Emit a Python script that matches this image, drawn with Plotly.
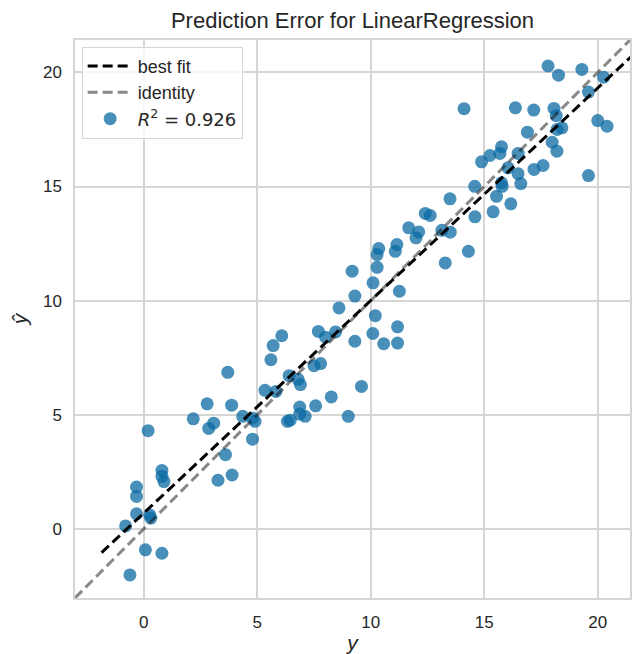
import numpy as np
import plotly.graph_objects as go

# ---- data ----
y_true = [5.34, 5.82, 2.79, 3.87, 2.18, 3.08, 2.86, 0.19, 4.36, 4.79,
          4.90, 4.79, 3.60, 3.89, 3.27, 0.80, 0.80, 0.89, -0.32, -0.32,
          -0.32, 0.26, 0.31, -0.80, 0.07, 0.80, -0.61,
          8.60, 9.30, 10.20, 7.69, 6.08, 5.70, 8.45, 8.01, 9.30,
          10.09, 5.60, 3.70, 6.40, 7.50, 7.79, 6.80, 6.90, 9.59, 8.26,
          7.57, 6.87, 6.87, 7.11, 6.33, 6.45, 9.01,
          12.40, 12.62, 11.67, 12.11, 11.99, 13.13, 13.50, 13.28, 10.35, 10.28,
          11.15, 11.08, 10.28, 10.10, 9.18, 11.26, 11.18, 10.57, 11.18,
          17.81, 18.27, 19.30, 20.26, 19.59, 14.11, 16.37, 17.18, 18.07, 18.17,
          20.00, 20.41, 16.90, 18.42, 18.21, 17.99, 18.20, 15.76, 15.25, 15.69,
          16.49, 14.88, 16.05, 16.49, 16.61, 17.19, 17.59, 19.59, 15.76, 15.79,
          14.58, 15.54, 16.17, 15.39, 14.59, 13.49, 14.30]
y_pred = [6.07, 6.02, 5.48, 5.42, 4.82, 4.63, 4.40, 4.30, 4.93, 4.85,
          4.71, 3.93, 3.25, 2.36, 2.13, 2.56, 2.30, 2.07, 1.83, 1.42,
          0.66, 0.61, 0.47, 0.13, -0.92, -1.07, -2.02,
          9.68, 10.20, 9.34, 8.65, 8.46, 8.03, 8.63, 8.40, 8.22,
          8.56, 7.41, 6.86, 6.71, 7.15, 7.24, 6.55, 6.32, 6.24, 5.78,
          5.39, 5.34, 5.03, 4.93, 4.71, 4.76, 4.93,
          13.82, 13.73, 13.19, 13.01, 12.75, 13.08, 13.00, 11.65, 12.28, 12.02,
          12.46, 12.16, 11.46, 10.78, 11.29, 10.41, 8.85, 8.11, 8.14,
          20.28, 19.88, 20.13, 19.79, 19.14, 18.41, 18.45, 18.35, 18.42, 18.11,
          17.89, 17.64, 17.38, 17.57, 17.50, 16.94, 16.55, 16.74, 16.36, 16.45,
          16.45, 16.08, 15.82, 15.56, 15.13, 15.75, 15.92, 15.48, 15.16, 15.01,
          15.01, 14.57, 14.24, 13.89, 13.67, 14.46, 12.16]
r2_text = "0.926"
axis_limits = [-3.03, 21.42]
tick_vals = [0, 5, 10, 15, 20]
title_text = "Prediction Error for LinearRegression"

# ---- best fit line (least squares on the data) ----
xa = np.array(y_true)
ya = np.array(y_pred)
slope, intercept = np.polyfit(xa, ya, 1)
span = xa.max() - xa.min()
xr = np.linspace(xa.min() - 0.05 * span, xa.max() + 0.05 * span, 100)
yr = slope * xr + intercept

r2_label = ('<span style="font-family:DejaVu Sans">'
            '<i>R</i><sup>2</sup> = ' + r2_text + '</span>')

fig = go.Figure()
fig.add_trace(go.Scatter(
    x=y_true, y=y_pred, mode="markers",
    marker=dict(color="#0b6aa3", size=13, opacity=0.75, line=dict(width=0)),
    name=r2_label, legendrank=3))
fig.add_trace(go.Scatter(
    x=xr, y=yr, mode="lines",
    line=dict(color="black", width=3, dash="10px,5px"),
    name="best fit", legendrank=1))
fig.add_trace(go.Scatter(
    x=axis_limits, y=axis_limits, mode="lines",
    line=dict(color="rgba(17,17,17,0.5)", width=3, dash="10px,5px"),
    name="identity", legendrank=2))

axis_common = dict(
    range=axis_limits, tickvals=tick_vals, showgrid=True,
    gridcolor="#d6d6d6", gridwidth=1.5, zeroline=False,
    showline=True, mirror=True, linecolor="#d6d6d6", linewidth=1.5,
    ticks="outside", ticklen=8, tickcolor="rgba(0,0,0,0)",
    tickfont=dict(size=17, color="#262626"),
)

fig.update_layout(
    width=633, height=654,
    margin=dict(l=75, r=1, t=40, b=56),
    plot_bgcolor="white", paper_bgcolor="white",
    font=dict(family="Liberation Sans, Arial, sans-serif", color="#262626"),
    title=dict(text=title_text, x=0.5, xref="paper", xanchor="center",
               y=1 - 20 / 654, yanchor="middle",
               font=dict(size=22, color="#262626")),
    legend=dict(x=0.012, y=0.988, xanchor="left", yanchor="top",
                bgcolor="rgba(255,255,255,0.8)", bordercolor="#d6d6d6",
                borderwidth=1, font=dict(size=18, color="#262626"),
                itemwidth=45, traceorder="normal"),
    xaxis=dict(axis_common, title=dict(text="<i>y</i>", font=dict(size=21), standoff=6)),
    yaxis=dict(axis_common, title=dict(text="<i>ŷ</i>", font=dict(size=21), standoff=10)),
    showlegend=True,
)

fig.write_html("out.html", config={"displayModeBar": False},
               post_script="document.body.style.margin='0px';document.body.style.overflow='hidden';")
